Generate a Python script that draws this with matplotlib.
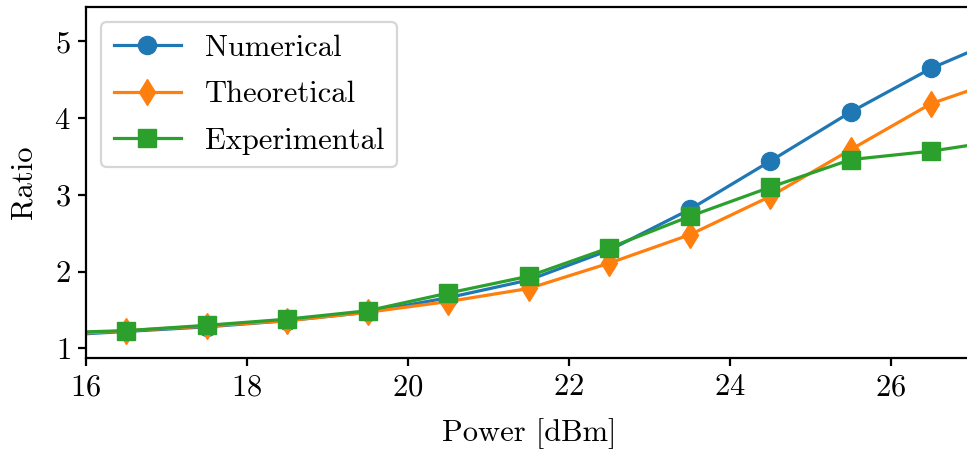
import matplotlib
matplotlib.use("Agg")
import matplotlib.pyplot as plt

plt.rcParams['font.family'] = ['cmr10', 'DejaVu Serif']
plt.rcParams['mathtext.fontset'] = 'cm'
plt.rcParams['axes.formatter.use_mathtext'] = True

power = [15.5, 16.5, 17.5, 18.5, 19.5, 20.5, 21.5, 22.5, 23.5, 24.5, 25.5, 26.5, 27.5]
numerical = [1.16, 1.22, 1.28, 1.36, 1.47, 1.66, 1.89, 2.28, 2.81, 3.44, 4.08, 4.65, 5.10]
theoretical = [1.17, 1.23, 1.29, 1.36, 1.47, 1.61, 1.78, 2.11, 2.48, 2.98, 3.59, 4.19, 4.55]
experimental = [1.20, 1.23, 1.30, 1.38, 1.49, 1.72, 1.94, 2.31, 2.72, 3.10, 3.46, 3.57, 3.73]

xticks = [16, 18, 20, 22, 24, 26]
yticks = [1, 2, 3, 4, 5]

W, H = 967, 450
fig = plt.figure(figsize=(W / 100, H / 100), dpi=100)
ax = fig.add_axes([86 / W, 91.7 / H, 885.5 / W, 351.4 / H])

ms = 13
lw = 2.3
ax.plot(power, numerical, marker='o', ms=ms, lw=lw, color='#1f77b4', label='Numerical')
ax.plot(power, theoretical, marker='d', ms=ms, lw=lw, color='#ff7f0e', label='Theoretical')
ax.plot(power, experimental, marker='s', ms=ms, lw=lw, color='#2ca02c', label='Experimental')

ax.set_xlim(16, 27)
ax.set_ylim(0.87, 5.45)
ax.set_xticks(xticks)
ax.set_yticks(yticks)

fs = 22
ax.tick_params(labelsize=fs, length=6, width=1.6, pad=5)
for s in ax.spines.values():
    s.set_linewidth(1.6)
ax.set_xlabel('Power [dBm]', fontsize=fs, labelpad=12)
ax.set_ylabel('Ratio', fontsize=fs, labelpad=12)

leg = ax.legend(loc='upper left', fontsize=fs, handlelength=2.2, borderaxespad=0.5,
                labelspacing=0.62)
leg.get_frame().set_linewidth(1.6)

fig.savefig('out.png', dpi=100)
